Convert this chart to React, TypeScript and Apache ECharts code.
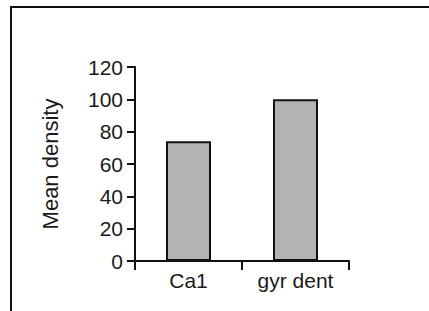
import React, { useEffect, useRef } from "react";
import * as echarts from "echarts";

const categories = ["Ca1", "gyr dent"];
const meanDensity = [74, 100];
const yTicks = { min: 0, max: 120, interval: 20 };

export default function App() {
  const ref = useRef<HTMLDivElement>(null);
  useEffect(() => {
    if (!ref.current) return;
    const chart = echarts.init(ref.current, undefined, { renderer: "svg" });
    const font = "Liberation Sans, Arial, sans-serif";
    chart.setOption({
      animation: false,
      backgroundColor: "#ffffff",
      graphic: [
        {
          type: "rect",
          shape: { x: 11, y: 7, width: 440, height: 330 },
          style: { fill: "none", stroke: "#111", lineWidth: 2 },
          silent: true,
        },
      ],
      grid: { left: 135, right: 80, top: 67, bottom: 50 },
      xAxis: {
        type: "category",
        data: categories,
        boundaryGap: true,
        axisLine: { show: true, lineStyle: { color: "#111", width: 2 } },
        axisTick: { show: true, length: 9, lineStyle: { color: "#111", width: 2 } },
        axisLabel: { color: "#1a1a1a", fontSize: 21, fontFamily: font, margin: 9 },
      },
      yAxis: {
        type: "value",
        min: yTicks.min,
        max: yTicks.max,
        interval: yTicks.interval,
        name: "Mean density",
        nameLocation: "middle",
        nameGap: 74,
        nameTextStyle: { color: "#1a1a1a", fontSize: 22, fontFamily: font },
        splitLine: { show: false },
        axisLine: { show: true, lineStyle: { color: "#111", width: 2 } },
        axisTick: { show: true, length: 8, lineStyle: { color: "#111", width: 2 } },
        axisLabel: { color: "#1a1a1a", fontSize: 21, fontFamily: font, margin: 12 },
      },
      series: [
        {
          type: "bar",
          data: meanDensity,
          barWidth: 45,
          itemStyle: { color: "#b3b3b3", borderColor: "#111", borderWidth: 2 },
        },
      ],
    });
    return () => chart.dispose();
  }, []);
  return (
    <div
      ref={ref}
      style={{ position: "fixed", left: 0, top: 0, width: 429, height: 311 }}
    />
  );
}
